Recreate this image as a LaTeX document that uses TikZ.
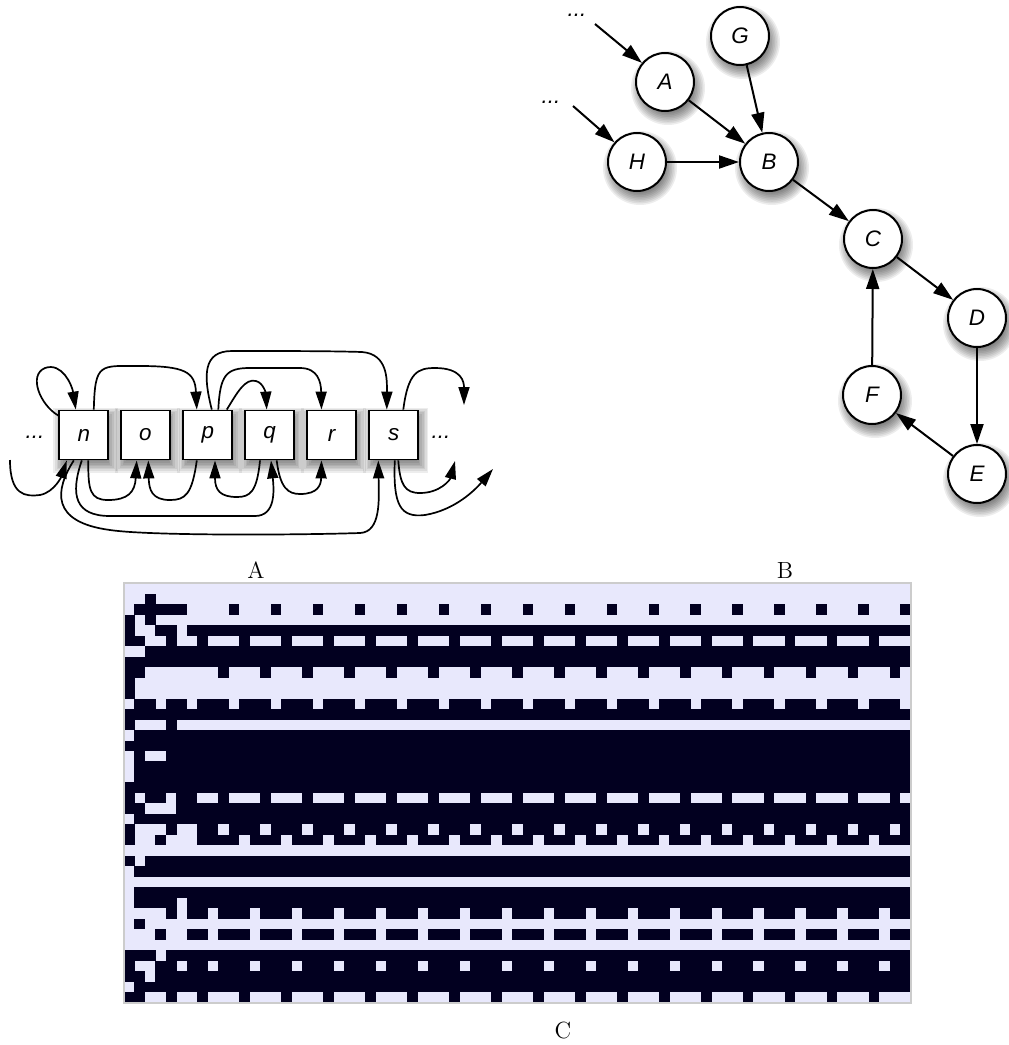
\documentclass[tikz,border=0pt]{standalone}
\usepackage{fontspec}
\newfontfamily\hv{Liberation Sans}
\usetikzlibrary{arrows.meta,calc}
\definecolor{lav}{RGB}{232,232,252}
\definecolor{dk}{RGB}{2,0,32}
\newcommand\nodefont{\fontsize{11.2}{13}\selectfont\hv\itshape}
\newcommand\gridrow[3]{%
  \foreach \b [count=\i from 0] in {#2}{%
    \ifnum\b=1 \fill[dk] ({124+10.49*\i},{583.3+10.48*#1}) rectangle ++(10.55,10.55);\fi}%
  \foreach \b [count=\j from 0] in {#3}{%
    \ifnum\b=1 \foreach \k in {0,...,15}{%
      \pgfmathtruncatemacro\cc{12+4*\k+\j}%
      \ifnum\cc<75 \fill[dk] ({124+10.49*\cc},{583.3+10.48*#1}) rectangle ++(10.55,10.55);\fi}\fi}%
}
\newcommand\cshadow[2]{\foreach \s in {0,...,9}{\fill[black,opacity=0.07] ({#1+3},{#2+6}) circle ({37-1.6*\s});}}
\newcommand\bshadow[2]{\foreach \s in {0,...,9}{\fill[black,opacity=0.07] ({#1-32.5+1.6*\s+2},{#2-32.5+1.6*\s+5}) rectangle ({#1+32.5-1.6*\s+2},{#2+32.5-1.6*\s+5});}}
\tikzset{
  box/.style={draw, line width=0.9pt, fill=white, minimum size=24.5pt, inner sep=0pt, font=\nodefont},
  circ/.style={circle, draw, line width=1pt, fill=white, minimum size=29pt, inner sep=0pt, font=\nodefont},
  arrA/.style={line width=0.85pt, -{Triangle[length=9pt,width=5.5pt]}},
  arrB/.style={line width=1pt, -{Triangle[length=10pt,width=6.5pt]}},
  lbl/.style={font=\fontsize{11.7}{14}\selectfont},
  dots/.style={font=\nodefont, inner sep=0pt},
}
\begin{document}
\begin{tikzpicture}[x=0.5pt,y=-0.5pt]
\fill[white] (0,0) rectangle (1008,1045);
\useasboundingbox (0,0) rectangle (1008,1045);

% ---------------- Panel A ----------------
\foreach \xx in {83.8,145.3,207.8,269.7,331.5,393.8}{\bshadow{\xx}{435}}
\node[box] (n) at (83.8,435) {n};
\node[box] (o) at (145.3,435) {o};
\node[box] (p) at (207.8,435) {p};
\node[box] (q) at (269.7,435) {q};
\node[box] (r) at (331.5,435) {r};
\node[box] (s) at (393.8,435) {s};
\node[dots] (ldots) at (35,437) {...};
\node[dots] (rdots) at (441,437) {...};
\coordinate (inL) at (10,460);
\coordinate (outT) at (464,405);
\coordinate (outB1) at (455,461);
\coordinate (outB2) at (493,469);

% top arrows
\draw[arrA] ($(n.north west)+(0,6)$) .. controls (40,405) and (28,375) .. (45,368) .. controls (62,362) and (72,385) .. ($(n.north)+(-8,0)$);
\draw[arrA] ($(n.north)+(10,0)$) .. controls (95,362) and (100,366) .. (140,366) .. controls (185,366) and (195,372) .. ($(p.north)+(-11,0)$);
\draw[arrA] ($(p.north)+(4,0)$) .. controls (203,375) and (203,351) .. (232,351) .. controls (290,351) and (330,351) .. (362,352) .. controls (388,354) and (387,380) .. ($(s.north)+(-7,0)$);
\draw[arrA] ($(p.north)+(10.5,0)$) .. controls (220,375) and (226,368) .. (250,368) .. controls (270,368) and (290,368) .. (300,368) .. controls (318,368) and (321,382) .. ($(r.north)+(-10,0)$);
\draw[arrA] ($(p.north)+(19,0)$) .. controls (237,393) and (245,378) .. (256,381) .. controls (264,383) and (266,395) .. ($(q.north)+(-3,0)$);
\draw[arrA] ($(s.north)+(9.5,0)$) .. controls (408,372) and (418,368) .. (435,368) .. controls (462,368) and (464,382) .. (outT);

% bottom arrows
\draw[arrA] (inL) .. controls (10,495) and (25,497) .. (40,495) .. controls (55,492) and (62,475) .. ($(n.south)+(-17,0)$);
\draw[arrA] ($(n.south)+(4.5,0)$) .. controls (88,490) and (90,500) .. (108,500) .. controls (128,500) and (135,492) .. ($(o.south)+(-8.6,0)$);
\draw[arrA] ($(p.south)+(-11,0)$) .. controls (192,495) and (185,500) .. (170,500) .. controls (152,500) and (149,490) .. ($(o.south)+(3,0)$);
\draw[arrA] ($(q.south)+(-9.7,0)$) .. controls (257,492) and (250,497) .. (237,497) .. controls (220,497) and (215,490) .. ($(p.south)+(7.2,0)$);
\draw[arrA] ($(q.south)+(7,0)$) .. controls (280,488) and (288,494) .. (300,494) .. controls (318,494) and (321,485) .. ($(r.south)+(-10,0)$);
\draw[arrA] ($(n.south)+(-2,0)$) .. controls (70,495) and (75,516) .. (110,516) .. controls (160,516) and (220,516) .. (255,516) .. controls (276,516) and (274,490) .. ($(q.south)+(1.3,0)$);
\draw[arrA] ($(n.south)+(-10,0)$) .. controls (55,490) and (50,522) .. (110,530) .. controls (150,536) and (300,535) .. (360,533) .. controls (381,532) and (379,500) .. ($(s.south)+(-15.5,0)$);
\draw[arrA] ($(s.south)+(4.5,0)$) .. controls (400,485) and (405,493) .. (420,493) .. controls (440,493) and (450,480) .. (outB1);
\draw[arrA] ($(s.south)+(1,0)$) .. controls (393,505) and (400,518) .. (425,515) .. controls (455,510) and (475,490) .. (outB2);

% ---------------- Panel B ----------------
\foreach \xx/\yy in {740/36,665/82,637/162,769/162,873/239,977/318,872/395,977/474}{\cshadow{\xx}{\yy}}
\node[circ] (G) at (740,36) {G};
\node[circ] (A) at (665,82) {A};
\node[circ] (H) at (637,162) {H};
\node[circ] (B) at (769,162) {B};
\node[circ] (C) at (873,239) {C};
\node[circ] (D) at (977,318) {D};
\node[circ] (F) at (872,395) {F};
\node[circ] (E) at (977,474) {E};
\node[dots] (d1) at (577,15) {...};
\node[dots] (d2) at (551,102) {...};
\coordinate (s1) at (595,24);
\coordinate (s2) at (573,106);
\draw[arrB] (s1) -- (A);
\draw[arrB] (s2) -- (H);
\draw[arrB] (A) -- (B);
\draw[arrB] (G) -- (B);
\draw[arrB] (H) -- (B);
\draw[arrB] (B) -- (C);
\draw[arrB] (C) -- (D);
\draw[arrB] (D) -- (E);
\draw[arrB] (E) -- (F);
\draw[arrB] (F) -- (C);

% ---------------- Panel C ----------------
\fill[lav] (124,583.3) rectangle (910.8,1002.5);
\gridrow{1}{0,0,1,0,0,0,0,0,0,0,0,0}{0,0,0,0}
\gridrow{2}{0,1,1,1,1,1,0,0,0,0,1,0}{0,0,1,0}
\gridrow{3}{1,0,1,0,0,0,0,0,0,0,0,0}{0,0,0,0}
\gridrow{4}{1,0,0,1,1,0,1,1,1,1,1,1}{1,1,1,1}
\gridrow{5}{1,1,0,0,1,0,0,1,0,0,0,1}{0,0,0,1}
\gridrow{6}{0,0,1,1,1,1,1,1,1,1,1,1}{1,1,1,1}
\gridrow{7}{1,1,1,1,1,1,1,1,1,1,1,1}{1,1,1,1}
\gridrow{8}{1,1,0,0,0,0,0,0,0,1,0,0}{0,1,0,0}
\gridrow{9}{1,0,0,0,0,0,0,0,0,0,0,0}{0,0,0,0}
\gridrow{10}{1,0,0,0,0,0,0,0,0,0,0,0}{0,0,0,0}
\gridrow{11}{0,1,1,0,1,1,0,1,1,1,0,1}{1,1,0,1}
\gridrow{12}{1,1,1,1,1,1,1,1,1,1,1,1}{1,1,1,1}
\gridrow{13}{1,0,0,0,1,0,0,0,0,0,0,0}{0,0,0,0}
\gridrow{14}{0,1,1,1,1,1,1,1,1,1,1,1}{1,1,1,1}
\gridrow{15}{1,1,1,1,1,1,1,1,1,1,1,1}{1,1,1,1}
\gridrow{16}{0,1,0,0,1,1,1,1,1,1,1,1}{1,1,1,1}
\gridrow{17}{0,1,1,1,1,1,1,1,1,1,1,1}{1,1,1,1}
\gridrow{18}{0,1,1,1,1,1,1,1,1,1,1,1}{1,1,1,1}
\gridrow{19}{1,1,1,1,1,1,1,1,1,1,1,1}{1,1,1,1}
\gridrow{20}{1,0,1,1,0,1,1,0,0,1,0,0}{0,1,0,0}
\gridrow{21}{1,1,0,0,0,1,1,1,1,1,1,1}{1,1,1,1}
\gridrow{22}{0,1,1,1,1,1,1,1,1,1,1,1}{1,1,1,1}
\gridrow{23}{1,0,0,0,1,0,0,1,1,0,1,1}{1,0,1,1}
\gridrow{24}{1,0,0,1,0,0,0,1,1,1,1,0}{1,1,1,0}
\gridrow{26}{1,0,1,1,1,1,1,1,1,1,1,1}{1,1,1,1}
\gridrow{27}{0,1,1,1,1,1,1,1,1,1,1,1}{1,1,1,1}
\gridrow{29}{0,1,1,1,1,1,1,1,1,1,1,1}{1,1,1,1}
\gridrow{30}{0,1,1,1,1,0,1,1,1,1,1,1}{1,1,1,1}
\gridrow{31}{0,0,0,0,1,0,1,1,0,1,1,1}{0,1,1,1}
\gridrow{32}{0,1,0,0,0,0,0,0,0,0,0,0}{0,0,0,0}
\gridrow{33}{0,0,0,1,0,0,1,1,0,1,1,1}{0,1,1,1}
\gridrow{35}{1,1,1,0,1,1,1,1,1,1,1,1}{1,1,1,1}
\gridrow{36}{1,0,0,1,1,0,1,1,0,1,1,1}{0,1,1,1}
\gridrow{37}{1,1,0,1,1,1,1,1,1,1,1,1}{1,1,1,1}
\gridrow{38}{0,1,1,1,1,1,1,1,1,1,1,1}{1,1,1,1}
\gridrow{39}{1,1,0,0,1,0,0,1,0,0,0,1}{0,0,0,1}
\draw[gray!40, line width=1pt] (123.5,582.6) rectangle (911.4,1003.1);

% panel labels
\node[lbl] (labA) at (256,570) {A};
\node[lbl] (labB) at (785,570) {B};
\node[lbl] (labC) at (563,1030) {C};
\end{tikzpicture}
\end{document}
